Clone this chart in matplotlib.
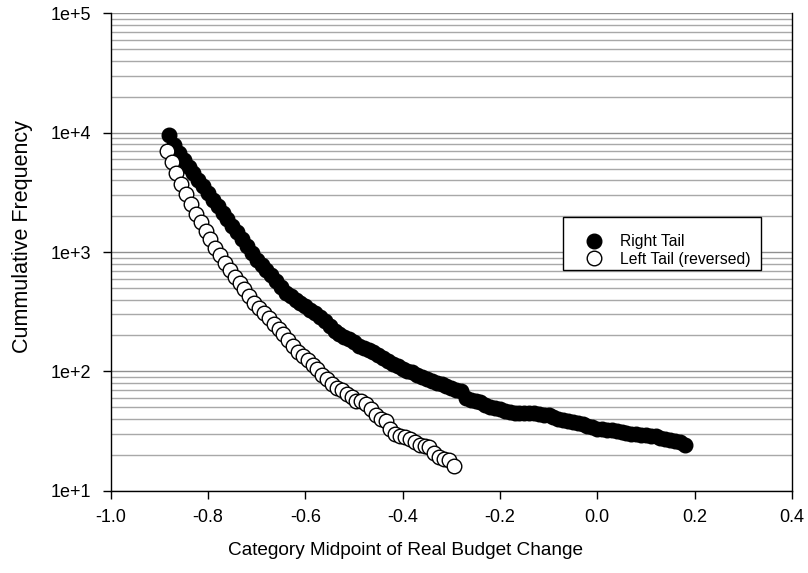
import numpy as np
import matplotlib
matplotlib.use('Agg')
import matplotlib.pyplot as plt
from matplotlib.patches import Rectangle
from matplotlib.ticker import LogLocator, FuncFormatter, MultipleLocator, NullFormatter

plt.rcParams['font.family'] = ['Liberation Sans', 'DejaVu Sans']
plt.rcParams['axes.unicode_minus'] = False

# right tail: category midpoint vs cumulative frequency
right_x = [-0.88, -0.87, -0.86, -0.85, -0.84, -0.83, -0.82, -0.81, -0.80, -0.79,
           -0.78, -0.77, -0.76, -0.75, -0.74, -0.73, -0.72, -0.71, -0.70, -0.69,
           -0.68, -0.67, -0.66, -0.65, -0.64, -0.63, -0.62, -0.61, -0.60, -0.59,
           -0.58, -0.57, -0.56, -0.55, -0.54, -0.53, -0.52, -0.51, -0.50, -0.49,
           -0.48, -0.47, -0.46, -0.45, -0.44, -0.43, -0.42, -0.41, -0.40, -0.39,
           -0.38, -0.37, -0.36, -0.35, -0.34, -0.33, -0.32, -0.31, -0.30, -0.29,
           -0.28, -0.27, -0.26, -0.25, -0.24, -0.23, -0.22, -0.21, -0.20, -0.19,
           -0.18, -0.17, -0.16, -0.15, -0.14, -0.13, -0.12, -0.11, -0.10, -0.09,
           -0.08, -0.07, -0.06, -0.05, -0.04, -0.03, -0.02, -0.01, 0.00, 0.01,
           0.02, 0.03, 0.04, 0.05, 0.06, 0.07, 0.08, 0.09, 0.10, 0.11,
           0.12, 0.13, 0.14, 0.15, 0.16, 0.17, 0.18]
right_y = [9500, 7940, 6760, 5890, 5190, 4570, 4030, 3550, 3130, 2750,
           2430, 2140, 1890, 1660, 1460, 1280, 1120, 980, 857, 776,
           708, 638, 569, 507, 457, 427, 398, 373, 351, 327,
           307, 287, 263, 239, 219, 207, 195, 186, 176, 164,
           157, 151, 145, 138, 130, 123, 116, 110, 105, 101,
           98, 93, 89, 86, 83, 80, 78, 75, 73, 70,
           69, 60, 57.5, 57, 55, 52.5, 50.7, 49, 48, 47,
           46, 45.2, 44.9, 44.7, 44.6, 44.5, 44, 43.4, 42.7, 41.2,
           39.8, 38.9, 38.5, 37.8, 37.2, 36.3, 35, 33.9, 33.1, 32.7,
           32.4, 32, 31.5, 30.9, 30.4, 30.1, 29.6, 29.4, 29.3, 29,
           28.5, 27.9, 27.2, 26.6, 26.2, 25.7, 24.3]

# left tail (reversed)
left_x = [-0.885, -0.875, -0.865, -0.855, -0.845, -0.835, -0.825, -0.815, -0.805, -0.795,
          -0.785, -0.775, -0.765, -0.755, -0.745, -0.735, -0.725, -0.715, -0.705, -0.695,
          -0.685, -0.675, -0.665, -0.655, -0.645, -0.635, -0.625, -0.615, -0.605, -0.595,
          -0.585, -0.575, -0.565, -0.555, -0.545, -0.535, -0.525, -0.515, -0.505, -0.495,
          -0.485, -0.475, -0.465, -0.455, -0.445, -0.435, -0.425, -0.415, -0.405, -0.395,
          -0.385, -0.375, -0.365, -0.355, -0.345, -0.335, -0.325, -0.315, -0.305, -0.295]
left_y = [7000, 5700, 4570, 3740, 3060, 2510, 2080, 1800, 1510, 1280,
          1090, 944, 813, 707, 621, 547, 490, 430, 376, 337,
          306, 278, 249, 225, 204, 183, 163, 146, 134, 124,
          113, 104, 94, 86, 79, 73, 70, 65, 61, 57,
          56, 53, 48, 43, 40, 38.6, 33, 30, 28.7, 28,
          27, 25.7, 24.2, 23.7, 23.4, 20.6, 19.3, 18.3, 18, 16]

fig = plt.figure(figsize=(8.08, 5.73), dpi=100)
ax = fig.add_axes([0.137, 0.1436, 0.843, 0.833])

ax.plot(right_x, right_y, 'o', ms=10.5, mfc='black', mec='black', mew=1.0,
        label='Right Tail', zorder=3)
ax.plot(left_x, left_y, 'o', ms=10.5, mfc='white', mec='black', mew=1.0,
        label='Left Tail (reversed)', zorder=4)

ax.set_yscale('log')
ax.set_ylim(10, 1e5)
ax.set_xlim(-1.0, 0.4)
ax.xaxis.set_major_locator(MultipleLocator(0.2))
ax.xaxis.set_major_formatter(FuncFormatter(lambda v, p: '%.1f' % v))
ax.yaxis.set_major_locator(LogLocator(base=10))
ax.yaxis.set_minor_locator(LogLocator(base=10, subs=range(2, 10)))
ax.yaxis.set_major_formatter(FuncFormatter(lambda v, p: '1e+%d' % int(round(np.log10(v)))))
ax.yaxis.set_minor_formatter(NullFormatter())

# grid lines across the plot
ax.grid(True, which='major', axis='y', color='#909090', lw=1.0, zorder=0)
ax.grid(True, which='minor', axis='y', color='#a8a8a8', lw=1.0, zorder=0)
ax.set_axisbelow(True)

ax.spines['top'].set_visible(False)
for s in ['left', 'bottom', 'right']:
    ax.spines[s].set_linewidth(1.0)
    ax.spines[s].set_color('black')

ax.tick_params(axis='both', which='major', direction='out', length=6, width=1,
               labelsize=13, colors='black')
ax.tick_params(axis='x', pad=7)
ax.tick_params(axis='y', pad=8)
ax.tick_params(axis='y', which='minor', length=0)

ax.set_xlabel('Category Midpoint of Real Budget Change', fontsize=13.7, va='center')
ax.xaxis.set_label_coords(0.4327, -0.125)
ax.set_ylabel('Cummulative Frequency', fontsize=15.5, va='center')
ax.yaxis.set_label_coords(-0.130, 0.532)

# legend box drawn separately (more room above the entries than below)
ax.add_patch(Rectangle((0.6643, 0.4623), 0.2902, 0.1104, transform=ax.transAxes,
                       fc='white', ec='black', lw=1.0, zorder=5))
leg = ax.legend(loc='upper left', bbox_to_anchor=(0.6643, 0.5727),
                fontsize=11.3, frameon=False, borderpad=1.09, labelspacing=0.15,
                handlelength=1.77, handletextpad=0.75, borderaxespad=0, numpoints=1)
leg.set_zorder(6)

fig.savefig('out.png', dpi=100)
